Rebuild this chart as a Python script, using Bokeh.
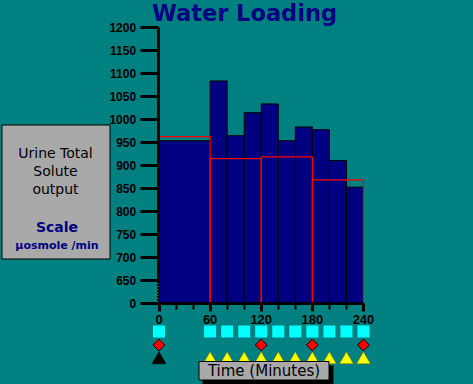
import numpy as np
from bokeh.plotting import figure
from bokeh.models import LinearAxis, FixedTicker, Range1d, Label
from bokeh.embed import file_html
from bokeh.resources import INLINE
from bokeh.core.templates import get_env

# ---------------- data ----------------
bar_start = [0, 60, 80, 100, 120, 140, 160, 180, 200, 220]
bar_end = [60, 80, 100, 120, 140, 160, 180, 200, 220, 240]
bar_value = [953, 1083, 964, 1014, 1033, 953, 983, 977, 910, 852]

ref_start = [0, 60, 120, 180]
ref_end = [60, 120, 180, 240]
ref_value = [962, 914, 918, 868]

y_ticks = [600, 650, 700, 750, 800, 850, 900, 950, 1000, 1050, 1100, 1150, 1200]
y_tick_labels = ["0", "650", "700", "750", "800", "850", "900", "950", "1000",
                 "1050", "1100", "1150", "1200"]
x_ticks = [0, 60, 120, 180, 240]
x_minor_ticks = [20, 40, 80, 100, 140, 160, 200, 220]

square_times = [0, 60, 80, 100, 120, 140, 160, 180, 200, 220, 240]
diamond_times = [0, 120, 180, 240]
black_tri_times = [0]
yellow_tri_times = [60, 80, 100, 120, 140, 160, 180, 200, 220, 240]

# ---------------- layout ----------------
W, H = 473, 384
SX = 0.852      # px per minute
SY = 0.4597     # px per unit
X0PX = 158.5    # px of time 0
Y600PX = 302.5  # px of axis base

x_start = -X0PX / SX
x_end = x_start + W / SX
y_end = 600 + Y600PX / SY
y_start = y_end - H / SY

def X(px):
    return x_start + px / SX

def Y(py):
    return y_end - py / SY

TEAL = "#008080"
NAVY = "#000080"
GRAY = "#A9A9A9"

p = figure(width=W, height=H, output_backend="svg", toolbar_location=None,
           x_range=Range1d(x_start, x_end), y_range=Range1d(y_start, y_end),
           x_axis_type=None, y_axis_type=None, min_border=0,
           background_fill_color=TEAL, border_fill_color=TEAL,
           outline_line_color=None)

# bars
p.quad(left=bar_start, right=bar_end, top=bar_value, bottom=600,
       fill_color=NAVY, line_color="black", line_width=1)
# red outlines
p.quad(left=ref_start, right=ref_end, top=ref_value, bottom=600,
       fill_color=None, line_color="red", line_width=1.2)

# axes
yaxis = LinearAxis(fixed_location=-1, bounds=(600, 1200),
                   ticker=FixedTicker(ticks=y_ticks),
                   major_label_overrides={t: l for t, l in zip(y_ticks, y_tick_labels)},
                   axis_line_width=3, axis_line_color="black",
                   major_tick_line_width=3, major_tick_out=18, major_tick_in=0,
                   minor_tick_line_color=None, major_label_standoff=4,
                   major_label_text_font="Liberation Sans",
                   major_label_text_font_style="bold",
                   major_label_text_font_size="12px",
                   major_label_text_color="black")
p.add_layout(yaxis, "left")

xaxis = LinearAxis(fixed_location=598, bounds=(0, 240),
                   ticker=FixedTicker(ticks=x_ticks, minor_ticks=x_minor_ticks),
                   axis_line_width=3, axis_line_color="black",
                   major_tick_line_width=3, major_tick_out=8, major_tick_in=0,
                   minor_tick_line_width=2, minor_tick_out=6, minor_tick_in=0,
                   minor_tick_line_color="black", major_label_standoff=3,
                   major_label_text_font="Liberation Sans",
                   major_label_text_font_style="bold",
                   major_label_text_font_size="13px",
                   major_label_text_color="black")
p.add_layout(xaxis, "below")

# axis break marks
brk = p.segment(x0=[X(156.5)], y0=[602], x1=[X(156.5)], y1=[648],
                line_color=TEAL, line_width=3, line_dash="1 2")
brk.level = "overlay"

# event markers below the axis
p.scatter(x=square_times, y=Y(331), marker="square", size=12,
          fill_color="#00FFFF", line_color=None)
p.scatter(x=diamond_times, y=Y(344.5), marker="square", size=8.4, angle=np.pi / 4,
          fill_color="red", line_color="black", line_width=1)
p.scatter(x=black_tri_times, y=Y(359.3), marker="triangle", size=14,
          fill_color="black", line_color="black", line_width=0.5)
p.scatter(x=yellow_tri_times, y=Y(359.3), marker="triangle", size=14,
          fill_color="#FFFF00", line_color="#6b6b00", line_width=0.5)

# time label box with shadow
p.quad(left=X(202), right=X(333), top=Y(365), bottom=Y(384), fill_color="black", line_color=None)
p.quad(left=X(198.5), right=X(328.5), top=Y(361), bottom=Y(379.5),
       fill_color=GRAY, line_color="black", line_width=1)

def label(txt, cx, cy, size, color="black", style="normal"):
    p.add_layout(Label(x=X(cx), y=Y(cy), text=txt, text_align="center",
                       text_baseline="middle", text_font="DejaVu Sans",
                       text_font_style=style, text_font_size=size, text_color=color))

label("Time (Minutes)", 263.5, 370.5, "15px")

# left caption box
p.quad(left=X(1.5), right=X(109.5), top=Y(124.5), bottom=Y(258.5),
       fill_color=GRAY, line_color="black", line_width=1)
label("Urine Total", 55, 152, "14px")
label("Solute", 55, 170, "14px")
label("output", 55, 188, "14px")
label("Scale", 56.5, 226, "14px", NAVY, "bold")
label("µosmole /min", 56.5, 245, "11px", NAVY, "bold")

# title
label("Water Loading", 244, 12.5, "22.5px", NAVY, "bold")

tmpl = get_env().from_string(
    '{% extends "file.html" %}{% block postamble %}'
    '<style>html,body{margin:0;padding:0;background:#008080;overflow:hidden}</style>'
    '{% endblock %}')

open("out.html", "w").write(file_html(p, INLINE, template=tmpl))
